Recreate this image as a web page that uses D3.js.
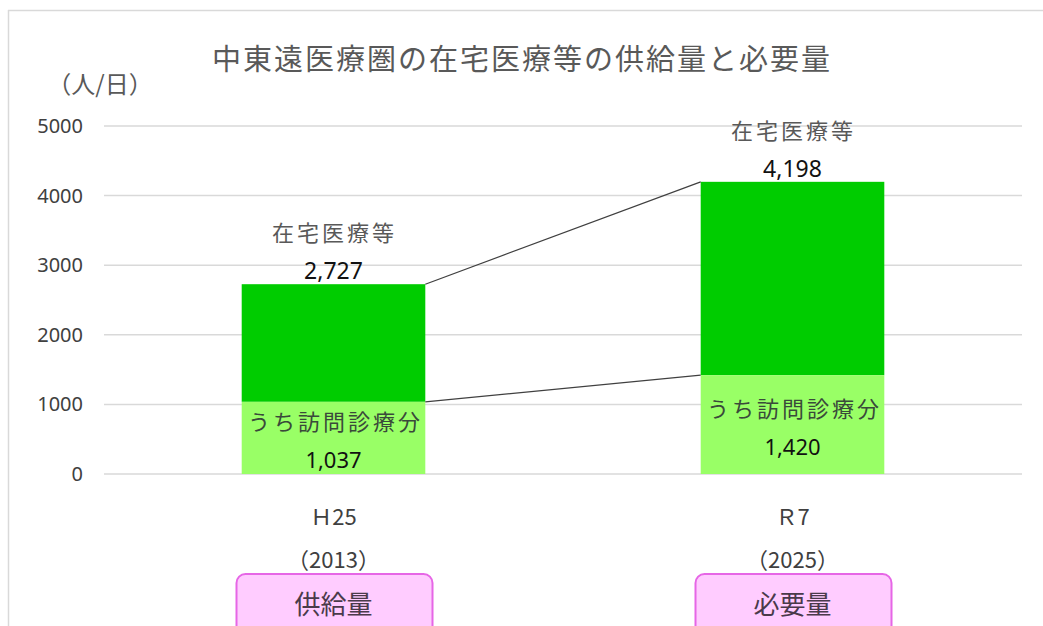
<!doctype html>
<html>
<head>
<meta charset="utf-8">
<script src="https://cdnjs.cloudflare.com/ajax/libs/d3/7.8.5/d3.min.js"></script>
<style>
  body { margin: 0; background: #fff; }
  svg { display: block; font-family: "Noto Sans CJK JP", "Noto Sans", sans-serif; }
</style>
</head>
<body>
<div id="chart"></div>
<script>
// data
var categories = ["Ｈ25", "Ｒ7"];
var years = ["（2013）", "（2025）"];
var boxLabels = ["供給量", "必要量"];
var totalValues = [2727, 4198];     // 在宅医療等
var visitValues = [1037, 1420];     // うち訪問診療分
var yTicks = [0, 1000, 2000, 3000, 4000, 5000];

var W = 1043, H = 626;
var margin = { left: 104, right: 21, top: 126, bottom: 152 };
var width = W - margin.left - margin.right,
    height = H - margin.top - margin.bottom;

var svg = d3.select("#chart").append("svg")
  .attr("width", W).attr("height", H);

// outer frame (top and left edges visible)
svg.append("line").attr("x1", 8).attr("x2", W).attr("y1", 10.5).attr("y2", 10.5)
  .attr("stroke", "#d9d9d9").attr("stroke-width", 1.5);
svg.append("line").attr("x1", 8.5).attr("x2", 8.5).attr("y1", 10).attr("y2", H)
  .attr("stroke", "#d9d9d9").attr("stroke-width", 1.5);

svg.append("text")
  .attr("x", 522).attr("y", 57)
  .attr("text-anchor", "middle").attr("dominant-baseline", "central")
  .attr("font-size", "29px").attr("letter-spacing", "2px")
  .attr("fill", "#595959")
  .text("中東遠医療圏の在宅医療等の供給量と必要量");

svg.append("text")
  .attr("x", 100).attr("y", 82)
  .attr("text-anchor", "middle").attr("dominant-baseline", "central")
  .attr("font-size", "24px").attr("fill", "#595959")
  .text("（人/日）");

var g = svg.append("g")
  .attr("transform", "translate(" + margin.left + "," + margin.top + ")");

var x = d3.scaleBand().domain(categories).range([0, width])
  .paddingInner(0.6).paddingOuter(0.3);
var y = d3.scaleLinear().domain([0, 5000]).range([height, 0]);

// gridlines
g.selectAll(".grid").data(yTicks).enter().append("line")
  .attr("x1", 0).attr("x2", width)
  .attr("y1", function(d) { return y(d); })
  .attr("y2", function(d) { return y(d); })
  .attr("stroke", "#d9d9d9").attr("stroke-width", 1.5);

var yAxis = g.append("g")
  .call(d3.axisLeft(y).tickValues(yTicks).tickFormat(d3.format("d"))
    .tickSize(0).tickPadding(21));
yAxis.select(".domain").remove();
yAxis.selectAll("text")
  .attr("font-size", "20px").attr("fill", "#404040")
  .attr("font-family", "'Noto Sans', sans-serif");

// bars
g.selectAll(".bar-total").data(categories).enter().append("rect")
  .attr("x", function(d) { return x(d); })
  .attr("width", x.bandwidth())
  .attr("y", function(d, i) { return y(totalValues[i]); })
  .attr("height", function(d, i) { return y(visitValues[i]) - y(totalValues[i]); })
  .attr("fill", "#00cc00");

g.selectAll(".bar-visit").data(categories).enter().append("rect")
  .attr("x", function(d) { return x(d); })
  .attr("width", x.bandwidth())
  .attr("y", function(d, i) { return y(visitValues[i]); })
  .attr("height", function(d, i) { return y(0) - y(visitValues[i]); })
  .attr("fill", "#99ff66");

// connector lines between bars
[totalValues, visitValues].forEach(function(vals) {
  g.append("line")
    .attr("x1", x(categories[0]) + x.bandwidth()).attr("y1", y(vals[0]))
    .attr("x2", x(categories[1])).attr("y2", y(vals[1]))
    .attr("stroke", "#404040").attr("stroke-width", 1.2);
});

// labels above bars
categories.forEach(function(c, i) {
  var cx = x(c) + x.bandwidth() / 2;
  g.append("text")
    .attr("x", cx).attr("y", y(totalValues[i]) - 14)
    .attr("text-anchor", "middle").attr("dominant-baseline", "central")
    .attr("font-size", "23px").attr("fill", "#111")
    .attr("font-family", "'Noto Sans', sans-serif")
    .text(d3.format(",")(totalValues[i]));
  g.append("text")
    .attr("x", cx + 1).attr("y", y(totalValues[i]) - 53)
    .attr("text-anchor", "middle").attr("dominant-baseline", "central")
    .attr("font-size", "22px").attr("letter-spacing", "3px").attr("fill", "#595959")
    .text("在宅医療等");

  var mid = (y(visitValues[i]) + y(0)) / 2;
  g.append("text")
    .attr("x", cx + 2).attr("y", mid - 18)
    .attr("text-anchor", "middle").attr("dominant-baseline", "central")
    .attr("font-size", "22px").attr("letter-spacing", "3px").attr("fill", "#3a4a3a")
    .text("うち訪問診療分");
  g.append("text")
    .attr("x", cx).attr("y", mid + 21)
    .attr("text-anchor", "middle").attr("dominant-baseline", "central")
    .attr("font-size", "22px").attr("fill", "#111")
    .attr("font-family", "'Noto Sans', sans-serif")
    .text(d3.format(",")(visitValues[i]));

  // category labels
  g.append("text")
    .attr("x", cx).attr("y", height + 41)
    .attr("text-anchor", "middle").attr("dominant-baseline", "central")
    .attr("font-size", "22px").attr("fill", "#404040")
    .text(c);
  g.append("text")
    .attr("x", cx).attr("y", height + 84)
    .attr("text-anchor", "middle").attr("dominant-baseline", "central")
    .attr("font-size", "22px").attr("fill", "#404040")
    .text(years[i]);

  // pink boxes
  g.append("rect")
    .attr("x", cx - 97).attr("y", height + 100)
    .attr("width", 196).attr("height", 64)
    .attr("rx", 9)
    .attr("fill", "#ffccff").attr("stroke", "#e666e6").attr("stroke-width", 2);
  g.append("text")
    .attr("x", cx).attr("y", height + 128)
    .attr("text-anchor", "middle").attr("dominant-baseline", "central")
    .attr("font-size", "26px").attr("fill", "#4a3a4a")
    .text(boxLabels[i]);
});
</script>
</body>
</html>
